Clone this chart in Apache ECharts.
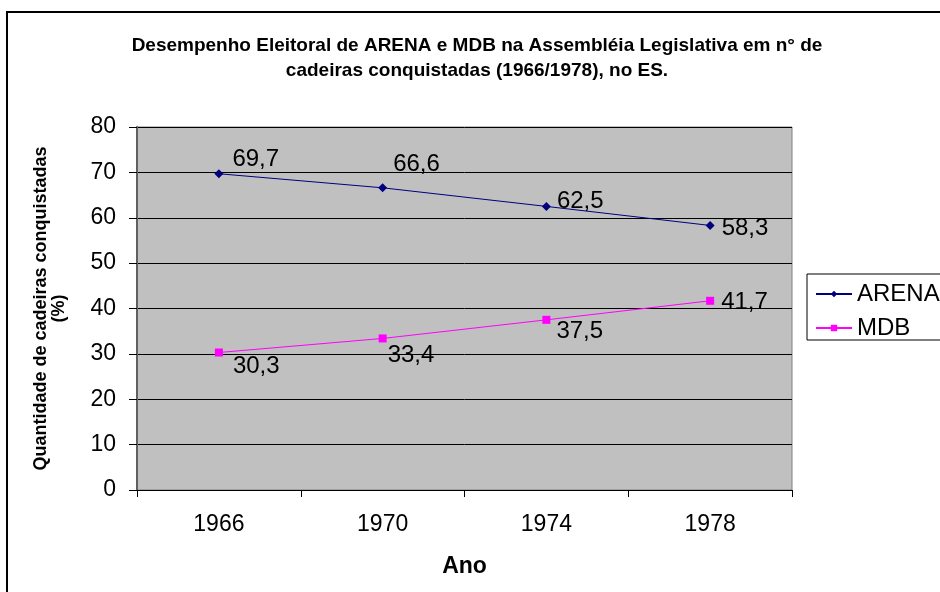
<!DOCTYPE html>
<html>
<head>
<meta charset="utf-8">
<script src="https://cdn.jsdelivr.net/npm/echarts@6/dist/echarts.min.js"></script>
<style>
  html, body { margin: 0; padding: 0; background: #fff; }
  #chart { width: 940px; height: 592px; }
</style>
</head>
<body>
<div id="chart"></div>
<script>
// dados
const anos = ["1966", "1970", "1974", "1978"];
const arena = [69.7, 66.6, 62.5, 58.3];
const mdb = [30.3, 33.4, 37.5, 41.7];

// deslocamento dos rótulos (como no original do Excel)
const arenaOffsets = [[4, -14], [1, -23], [1, -5], [2, 3]];
const mdbOffsets = [[5, 14], [-4, 17], [1, 12], [2, 2]];

const fmt = (v) => String(v).replace(".", ",");

function comRotulos(values, offsets) {
    return values.map((v, i) => ({
        value: v,
        label: { offset: offsets[i] },
    }));
}

const chart = echarts.init(document.getElementById("chart"));
const fonte = "Liberation Sans, Arial, sans-serif";

const option = {
    animation: false,
    textStyle: { fontFamily: fonte },
    title: {
        text: "Desempenho Eleitoral de ARENA e MDB na Assembléia Legislativa em n° de\ncadeiras conquistadas (1966/1978), no ES.",
        left: 472,
        top: 28,
        textAlign: "center",
        textStyle: {
            fontSize: 19,
            fontWeight: "bold",
            color: "#000",
            lineHeight: 25,
            fontFamily: fonte,
        },
    },
    graphic: [
        {
            type: "rect",
            shape: { x: 7, y: 12, width: 1000, height: 1000 },
            style: { fill: "none", stroke: "#000", lineWidth: 2 },
            z: 0,
        },
        {
            type: "rect",
            shape: { x: 807, y: 274, width: 200, height: 66 },
            style: { fill: "#fff", stroke: "#000", lineWidth: 1 },
            z: 1,
        },
    ],
    legend: {
        left: 810,
        top: 277,
        orient: "vertical",
        itemWidth: 36,
        itemHeight: 8,
        itemGap: 10,
        z: 5,
        textStyle: { fontSize: 24, color: "#000", fontFamily: fonte },
        data: ["ARENA", "MDB"],
    },
    grid: {
        left: 137,
        right: 148,
        top: 127,
        bottom: 102,
        show: true,
        backgroundColor: "#C0C0C0",
        borderColor: "#808080",
        borderWidth: 1,
    },
    xAxis: {
        type: "category",
        data: anos,
        boundaryGap: true,
        name: "Ano",
        nameLocation: "middle",
        nameGap: 65,
        nameTextStyle: { fontSize: 23, fontWeight: "bold", color: "#000" },
        axisLine: { lineStyle: { color: "#000", width: 1 } },
        axisTick: { show: true, interval: 0, length: 7, lineStyle: { color: "#000" } },
        axisLabel: { fontSize: 23, color: "#000", margin: 23 },
    },
    yAxis: {
        type: "value",
        min: 0,
        max: 80,
        interval: 10,
        name: "Quantidade de cadeiras conquistadas\n(%)",
        nameLocation: "middle",
        nameRotate: 90,
        nameGap: 69,
        nameTextStyle: {
            fontSize: 18,
            fontWeight: "bold",
            color: "#000",
            lineHeight: 18,
        },
        axisLine: { show: true, lineStyle: { color: "#606060", width: 2 } },
        axisTick: { show: true, length: 8, lineStyle: { color: "#000" } },
        axisLabel: { fontSize: 23, color: "#000", margin: 21 },
        splitLine: { lineStyle: { color: "#000", width: 1 } },
    },
    series: [
        {
            name: "ARENA",
            type: "line",
            data: comRotulos(arena, arenaOffsets),
            color: "#000080",
            symbol: "diamond",
            symbolSize: 9,
            lineStyle: { width: 1, color: "#000080" },
            itemStyle: { color: "#000080" },
            label: {
                show: true,
                position: "right",
                fontSize: 24,
                color: "#000",
                formatter: (p) => fmt(p.value),
            },
        },
        {
            name: "MDB",
            type: "line",
            data: comRotulos(mdb, mdbOffsets),
            color: "#FF00FF",
            symbol: "rect",
            symbolSize: 8,
            lineStyle: { width: 1, color: "#FF00FF" },
            itemStyle: { color: "#FF00FF" },
            label: {
                show: true,
                position: "right",
                fontSize: 24,
                color: "#000",
                formatter: (p) => fmt(p.value),
            },
        },
    ],
};

chart.setOption(option);
</script>
</body>
</html>
